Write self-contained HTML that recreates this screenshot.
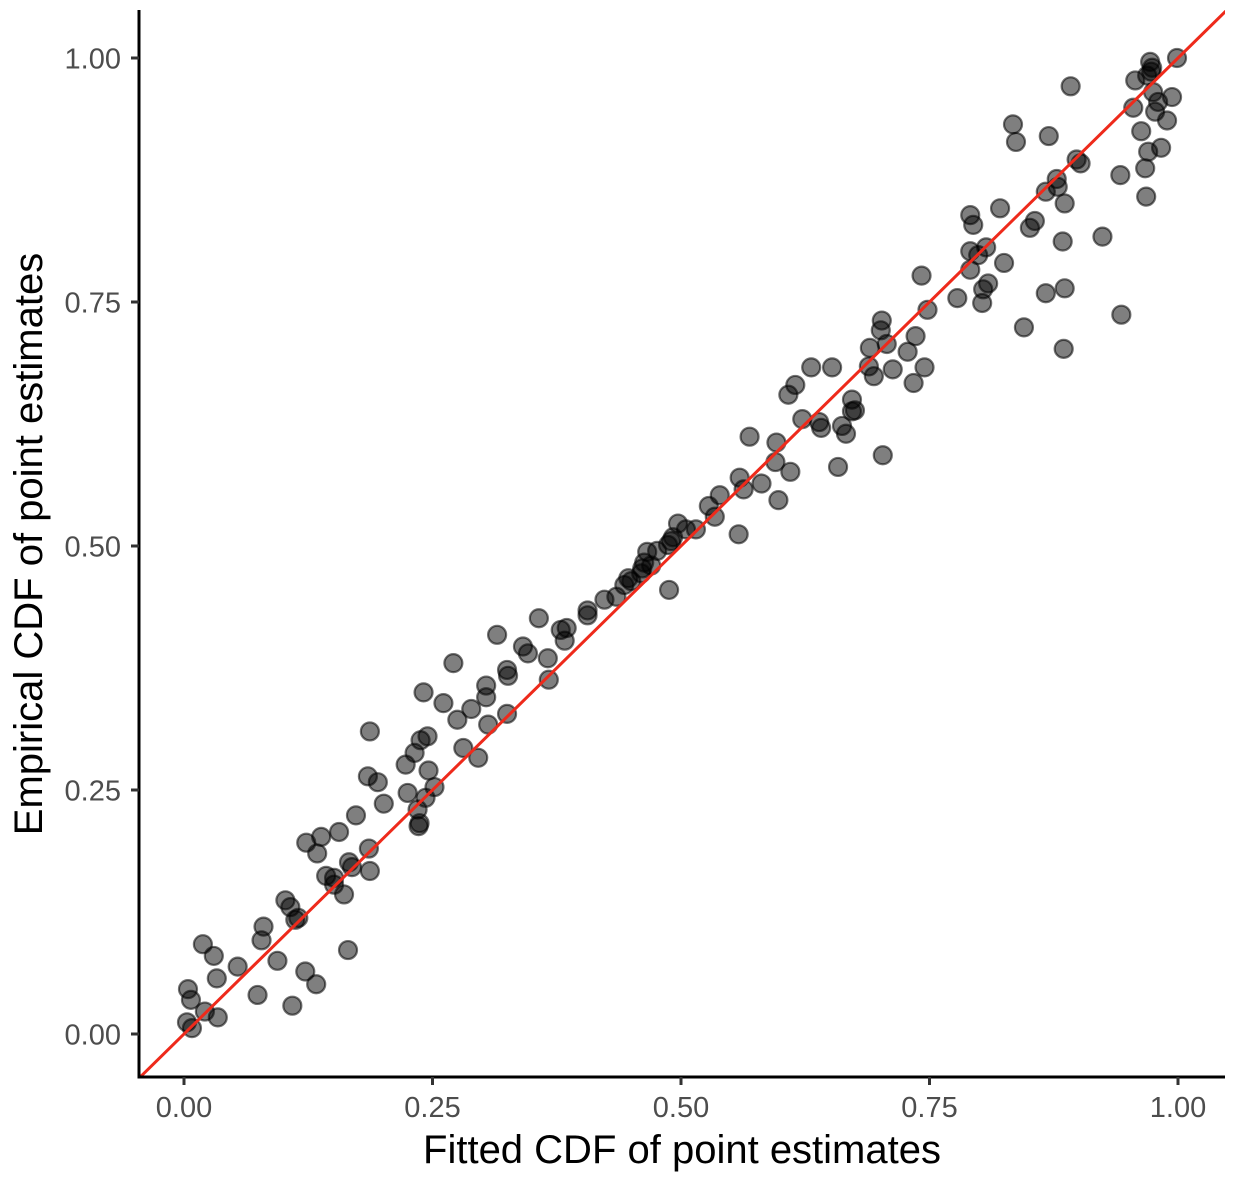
<!DOCTYPE html>
<html><head><meta charset="utf-8"><style>
html,body{margin:0;padding:0;background:#fff;}
svg text{font-family:"Liberation Sans",sans-serif;}
</style></head><body>
<svg id="chart" width="1236" height="1180" viewBox="0 0 1236 1180" xmlns="http://www.w3.org/2000/svg">
<g id="points"></g>
<g id="refline"></g>
<g id="axes"></g>
</svg>
<script>
const xVals=[.004,.007,.003,.008,.019,.030,.021,.033,.034,.054,.074,.080,.078,.094,.109,.102,.107,.115,.112,.122,.123,.134,.138,.133,.143,.151,.151,.156,.161,.166,.165,.169,.173,.187,.185,.186,.187,.195,.201,.223,.225,.232,.235,.237,.236,.238,.241,.245,.243,.246,.252,.261,.271,.275,.281,.289,.296,.304,.304,.306,.315,.325,.326,.325,.341,.346,.357,.366,.367,.379,.383,.385,.406,.406,.423,.435,.443,.447,.450,.460,.461,.463,.466,.470,.488,.487,.492,.497,.490,.476,.505,.515,.528,.534,.539,.558,.559,.563,.569,.581,.598,.596,.595,.610,.608,.615,.622,.631,.639,.641,.652,.658,.662,.666,.672,.672,.675,.689,.690,.694,.701,.702,.707,.703,.713,.728,.736,.734,.742,.748,.745,.778,.791,.791,.794,.791,.799,.804,.803,.807,.809,.821,.825,.834,.837,.845,.851,.856,.867,.867,.870,.878,.879,.884,.886,.885,.886,.892,.898,.902,.924,.942,.943,.957,.955,.963,.967,.968,.970,.969,.972,.974,.975,.977,.980,.973,.983,.989,.994,.999];
const yVals=[.046,.035,.012,.006,.092,.080,.023,.057,.017,.069,.040,.110,.096,.075,.029,.137,.130,.119,.117,.064,.196,.185,.202,.051,.162,.153,.160,.207,.143,.176,.086,.171,.224,.310,.264,.190,.167,.258,.236,.276,.247,.288,.230,.216,.213,.301,.350,.305,.242,.270,.253,.339,.380,.322,.293,.333,.283,.357,.345,.317,.409,.373,.367,.328,.397,.390,.426,.385,.363,.414,.403,.416,.434,.429,.445,.448,.460,.467,.464,.472,.477,.483,.494,.480,.455,.501,.509,.523,.505,.495,.517,.517,.541,.530,.552,.512,.570,.558,.612,.564,.547,.606,.586,.576,.655,.665,.630,.683,.627,.621,.683,.581,.623,.615,.638,.650,.639,.684,.703,.674,.721,.731,.707,.593,.681,.699,.715,.667,.777,.742,.683,.754,.802,.839,.829,.783,.798,.763,.749,.806,.769,.846,.790,.932,.914,.724,.826,.833,.863,.759,.920,.876,.868,.812,.851,.702,.764,.971,.896,.892,.817,.880,.737,.977,.949,.925,.887,.858,.904,.982,.996,.990,.965,.945,.955,.986,.908,.936,.960,1.000];
const xTicks=[0,0.25,0.5,0.75,1];
const yTicks=[0,0.25,0.5,0.75,1];
const tickLabels=["0.00","0.25","0.50","0.75","1.00"];
const NS="http://www.w3.org/2000/svg";
const L=139,R=1225,T=10,B=1077;
const sx=v=>184+v*994;
const sy=v=>1034-v*976;
function mk(tag,attrs,parent){const e=document.createElementNS(NS,tag);for(const k in attrs)e.setAttribute(k,attrs[k]);parent.appendChild(e);return e;}
const pts=document.getElementById('points');
xVals.forEach((x,i)=>{
  const c=mk('circle',{cx:sx(x),cy:sy(yVals[i]),r:9,fill:'rgba(0,0,0,0.5)',stroke:'rgba(0,0,0,0.55)','stroke-width':2.2},pts);
  
  
});
const rl=document.getElementById('refline');
const lo=-0.05,hi=1.06;
const clip=mk('clipPath',{id:'pc'},rl);
mk('rect',{x:L,y:T,width:R-L,height:B-T},clip);
const ln=mk('line',{x1:sx(lo),y1:sy(lo),x2:sx(hi),y2:sy(hi),stroke:'#ee2a1b','stroke-width':3,'clip-path':'url(#pc)'},rl);


const ax=document.getElementById('axes');
const ya=mk('line',{x1:L,y1:T,x2:L,y2:B+1.5,stroke:'#000','stroke-width':3},ax);


const xa=mk('line',{x1:L-1.5,y1:B,x2:R,y2:B,stroke:'#000','stroke-width':3},ax);


xTicks.forEach((v,i)=>{
  mk('line',{x1:sx(v),y1:B,x2:sx(v),y2:B+8,stroke:'#333','stroke-width':3},ax);
  const t=mk('text',{x:sx(v),y:B+40,'text-anchor':'middle','font-size':29,fill:'#4d4d4d'},ax);
  t.textContent=tickLabels[i];
  
  
});
yTicks.forEach((v,i)=>{
  mk('line',{x1:L-8,y1:sy(v),x2:L,y2:sy(v),stroke:'#333','stroke-width':3},ax);
  const t=mk('text',{x:L-18,y:sy(v)+10.5,'text-anchor':'end','font-size':29,fill:'#4d4d4d'},ax);
  t.textContent=tickLabels[i];
  
  
});
const xt=mk('text',{x:682,y:1163,'text-anchor':'middle','font-size':40,fill:'#000'},ax);
xt.textContent='Fitted CDF of point estimates';


const yt=mk('text',{x:0,y:0,'text-anchor':'middle','font-size':40,fill:'#000',transform:'translate(42,544) rotate(-90)'},ax);
yt.textContent='Empirical CDF of point estimates';


</script>
</body></html>
